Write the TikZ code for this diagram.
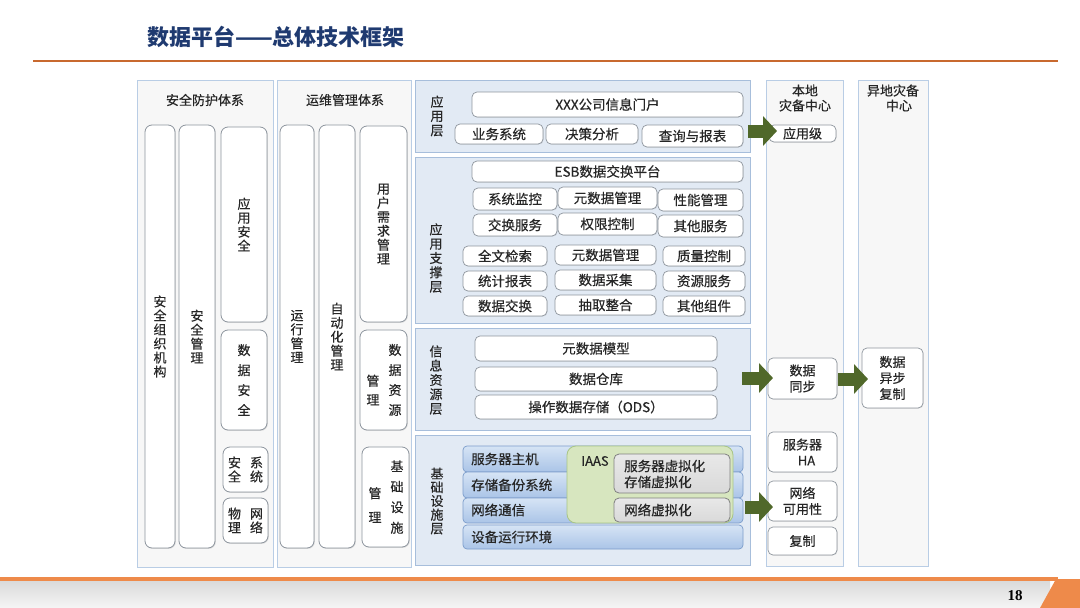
\documentclass[tikz,border=0pt]{standalone}
\usepackage{fontspec}
\setmainfont[FakeBold=0.35]{Noto Sans CJK SC}
\newfontfamily\titlefont{Noto Sans CJK SC}
\newfontfamily\numfont{Liberation Serif}
\usetikzlibrary{arrows.meta,shadows}
\definecolor{titlec}{HTML}{1F3A70}
\definecolor{orangeline}{HTML}{C8692F}
\definecolor{orangebar}{HTML}{EE8A4A}
\definecolor{pborder}{HTML}{B9CDE5}
\definecolor{pfill}{HTML}{F7F7F7}
\definecolor{cborder}{HTML}{8D959E}
\definecolor{lborder}{HTML}{A7BEDB}
\definecolor{lfill}{HTML}{E2EAF4}
\definecolor{iborder}{HTML}{8F969E}
\definecolor{btop}{HTML}{D6E4F5}
\definecolor{bbot}{HTML}{AAC4E7}
\definecolor{bborder}{HTML}{7C9DCB}
\definecolor{iaasfill}{HTML}{D7E6BF}
\definecolor{iaasborder}{HTML}{A8C585}
\definecolor{grayfill}{HTML}{D9D9D9}
\definecolor{grayborder}{HTML}{808080}
\definecolor{arrowc}{HTML}{50682A}
\definecolor{txt}{HTML}{262626}
\newcommand\fs[2]{\fontsize{#1}{#2}\selectfont}
\newcommand\mybox[7]{\node[#6, minimum width={#4-#2}, minimum height={#5-#3}] (#1) at ({(#2+#4)/2},{(#3+#5)/2}) {#7};}
\begin{document}
\begin{tikzpicture}[x=1pt,y=-1pt, every node/.style={text=txt},
  panel/.style={draw=pborder, fill=pfill, line width=0.9pt, inner sep=0pt},
  hdr/.style={inner sep=0pt, font=\fs{13}{15}, align=center},
  colbox/.style={draw=cborder, fill=white, rounded corners=7pt, line width=0.8pt, inner sep=0pt, align=center, font=\fs{13}{14},
     drop shadow={shadow xshift=0.8pt, shadow yshift=-0.8pt, opacity=0.25}},
  layer/.style={draw=lborder, fill=lfill, line width=0.9pt, inner sep=0pt},
  lbl/.style={inner sep=0pt, align=center, font=\fs{13}{14.3}},
  item/.style={draw=iborder, fill=white, rounded corners=5pt, line width=0.7pt, inner sep=0pt, font=\fs{13.5}{15}, align=center,
     drop shadow={shadow xshift=0.6pt, shadow yshift=-0.6pt, opacity=0.25}},
  band/.style={draw=bborder, top color=btop, bottom color=bbot, rounded corners=4pt, line width=0.7pt, inner sep=0pt},
  btext/.style={inner sep=0pt, anchor=west, font=\fs{13.5}{15}},
  iaas/.style={draw=iaasborder, fill=iaasfill, rounded corners=9pt, line width=0.8pt, inner sep=0pt},
  virt/.style={draw=grayborder, top color=grayfill!60, bottom color=grayfill, rounded corners=5pt, line width=0.8pt, inner sep=0pt},
  bigarrow/.style={draw=arrowc, line width=13pt, -{Triangle[length=14pt,width=29pt]}}
]
\useasboundingbox (0,0) rectangle (1080,608);
% title and top rule
\node[inner sep=0pt, anchor=west, font=\titlefont\fs{22}{26}\bfseries, text=titlec] (title) at (147,37) {数据平台——总体技术框架};
\coordinate (tl1) at (33,61); \coordinate (tl2) at (1058,61);
\draw[orangeline, line width=2.6pt] (tl1) -- (tl2);
% bottom band
\shade[top color=gray!30, bottom color=gray!8] (0,580) rectangle (1050,608);
\fill[orangebar] (0,577) rectangle (1058,581);
\fill[orangebar] (1040,608) -- (1056,579) -- (1080,579) -- (1080,608) -- cycle;
\node[inner sep=0pt, font=\numfont\fs{15}{17}\bfseries, text=black] (pnum) at (1015,596) {18};

% ---------- panel 1
\mybox{p1}{137}{80}{273}{567}{panel}{}
\node[hdr] (p1h) at (205,100) {安全防护体系};
\mybox{c11}{145}{125}{175}{548}{colbox}{安\\全\\组\\织\\机\\构}
\mybox{c12}{179}{125}{215}{548}{colbox}{安\\全\\管\\理}
\mybox{c13}{221}{127}{267}{322}{colbox}{应\\用\\安\\全}
\mybox{c14}{221}{330}{267}{430}{colbox,font=\fs{13}{20}}{数\\据\\安\\全}
\mybox{c15}{223}{447}{268}{492}{colbox}{安\hspace{9pt}系\\全\hspace{9pt}统}
\mybox{c16}{223}{498}{268}{543}{colbox}{物\hspace{9pt}网\\理\hspace{9pt}络}

% ---------- panel 2
\mybox{p2}{277}{80}{411}{567}{panel}{}
\node[hdr] (p2h) at (345,100) {运维管理体系};
\mybox{c21}{280}{125}{314}{548}{colbox}{运\\行\\管\\理}
\mybox{c22}{319}{125}{355}{548}{colbox}{自\\动\\化\\管\\理}
\mybox{c23}{360}{126}{407}{322}{colbox}{用\\户\\需\\求\\管\\理}
\mybox{c24}{360}{330}{407}{430}{colbox}{}
\node[lbl, font=\fs{13}{20}] (c24a) at (395,380) {数\\据\\资\\源};
\node[lbl, font=\fs{13}{19}] (c24b) at (373,390) {管\\理};
\mybox{c25}{362}{447}{409}{547}{colbox}{}
\node[lbl, font=\fs{13}{20.5}] (c25a) at (397,497) {基\\础\\设\\施};
\node[lbl, font=\fs{13}{24}] (c25b) at (375,505) {管\\理};

% ---------- layer 1
\mybox{ly1}{415}{80}{750}{152}{layer}{}
\node[lbl] (ly1l) at (437,116) {应\\用\\层};
\mybox{i11}{472}{92}{743}{117}{item}{XXX公司信息门户}
\mybox{i12}{455}{124}{543}{144}{item}{业务系统}
\mybox{i13}{546}{124}{638}{144}{item}{决策分析}
\mybox{i14}{642}{125}{743}{147}{item}{查询与报表}

% ---------- layer 2
\mybox{ly2}{415}{157}{750}{323}{layer}{}
\node[lbl] (ly2l) at (436,258) {应\\用\\支\\撑\\层};
\mybox{i20}{472}{161}{743}{182}{item}{ESB数据交换平台}
\mybox{i21}{473}{188}{557}{210}{item}{系统监控}
\mybox{i22}{558}{187}{657}{209}{item}{元数据管理}
\mybox{i23}{658}{189}{743}{211}{item}{性能管理}
\mybox{i24}{473}{214}{557}{236}{item}{交换服务}
\mybox{i25}{558}{213}{657}{235}{item}{权限控制}
\mybox{i26}{658}{215}{743}{237}{item}{其他服务}
\mybox{i27}{463}{246}{547}{266}{item}{全文检索}
\mybox{i28}{555}{245}{656}{265}{item}{元数据管理}
\mybox{i29}{663}{246}{745}{266}{item}{质量控制}
\mybox{i30}{463}{271}{547}{291}{item}{统计报表}
\mybox{i31}{555}{270}{656}{290}{item}{数据采集}
\mybox{i32}{663}{271}{745}{291}{item}{资源服务}
\mybox{i33}{463}{296}{547}{316}{item}{数据交换}
\mybox{i34}{555}{295}{656}{315}{item}{抽取整合}
\mybox{i35}{663}{296}{745}{316}{item}{其他组件}

% ---------- layer 3
\mybox{ly3}{415}{328}{750}{430}{layer}{}
\node[lbl] (ly3l) at (436,380) {信\\息\\资\\源\\层};
\mybox{i41}{475}{336}{717}{361}{item}{元数据模型}
\mybox{i42}{475}{367}{717}{391}{item}{数据仓库}
\mybox{i43}{475}{395}{717}{419}{item}{操作数据存储（ODS）}

% ---------- layer 4
\mybox{ly4}{415}{435}{750}{565}{layer}{}
\node[lbl, font=\fs{13}{13.7}] (ly4l) at (437,501) {基\\础\\设\\施\\层};
\mybox{b1}{463}{446}{743}{472}{band}{}
\mybox{b2}{463}{472}{743}{498}{band}{}
\mybox{b3}{463}{498}{743}{523}{band}{}
\mybox{b4}{463}{525}{743}{549}{band}{}
\node[btext] (b1t) at (471,459) {服务器主机};
\node[btext] (b2t) at (471,485) {存储备份系统};
\node[btext] (b3t) at (471,510) {网络通信};
\node[btext] (b4t) at (471,537) {设备运行环境};
\mybox{iaas}{567}{446}{733}{523}{iaas}{}
\node[inner sep=0pt, font=\fs{13}{15}] (iaast) at (595,461) {IAAS};
\mybox{v1}{614}{454}{730}{493}{virt}{}
\node[btext, align=left, font=\fs{13.5}{16}] (v1t) at (624,474) {服务器虚拟化\\存储虚拟化};
\mybox{v2}{614}{498}{730}{522}{virt}{}
\node[btext] (v2t) at (624,510) {网络虚拟化};

% ---------- right panels
\mybox{p3}{766}{80}{843}{566}{panel}{}
\node[hdr, font=\fs{13}{15}] (p3h) at (805,98) {本地\\灾备中心};
\mybox{r1}{769}{125}{836}{142}{item,font=\fs{13}{14}}{应用级}
\mybox{r2}{768}{358}{837}{399}{item,font=\fs{13}{16}}{数据\\同步}
\mybox{r3}{768}{432}{837}{472}{item,font=\fs{13}{16}}{服务器\\\hspace{8pt}HA}
\mybox{r4}{768}{481}{837}{521}{item,font=\fs{13}{16}}{网络\\可用性}
\mybox{r5}{768}{527}{837}{555}{item,font=\fs{13}{16}}{复制}
\mybox{p4}{858}{80}{928}{566}{panel}{}
\node[hdr, font=\fs{13}{15}] (p4h) at (893,98) {异地灾备\\\hspace{12pt}中心};
\mybox{r6}{862}{348}{923}{408}{item,font=\fs{13}{16}}{数据\\异步\\复制}

% ---------- arrows
\coordinate (a1s) at (748,131); \coordinate (a1e) at (777,131);
\coordinate (a2s) at (742,378); \coordinate (a2e) at (773,378);
\coordinate (a3s) at (838,379); \coordinate (a3e) at (868,379);
\coordinate (a4s) at (745,507); \coordinate (a4e) at (773,507);
\draw[bigarrow] (a1s) -- (a1e);
\draw[bigarrow] (a2s) -- (a2e);
\draw[bigarrow] (a3s) -- (a3e);
\draw[bigarrow] (a4s) -- (a4e);
\end{tikzpicture}
\end{document}
